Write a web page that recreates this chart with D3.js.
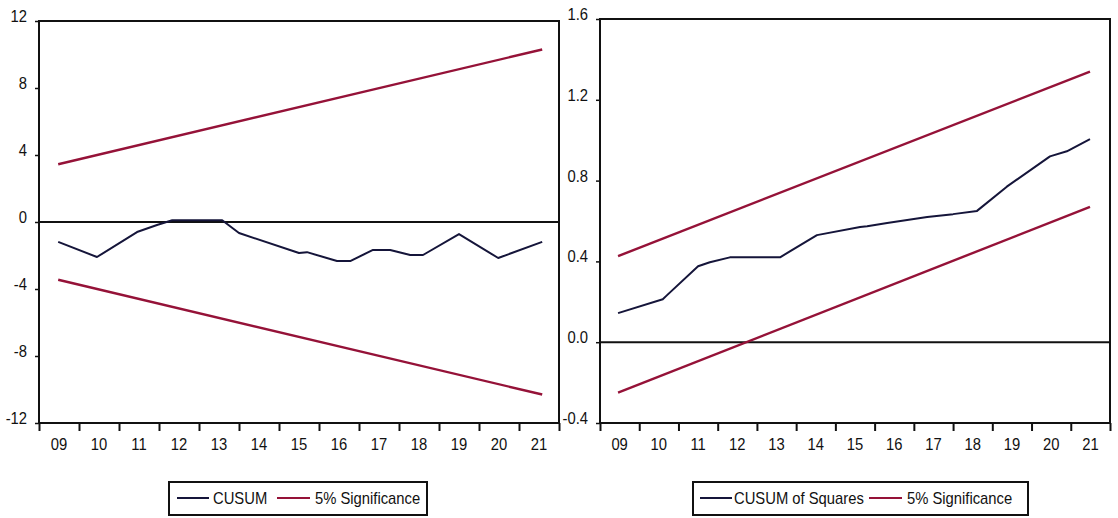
<!DOCTYPE html>
<html>
<head>
<meta charset="utf-8">
<script src="https://cdn.jsdelivr.net/npm/d3@7"></script>
<style>
  html, body { margin: 0; padding: 0; background: #fff; }
  svg { display: block; }
  text { font-family: "Liberation Sans", Arial, sans-serif; fill: #111; }
</style>
</head>
<body>
<svg id="chart" width="1118" height="518"></svg>
<script>
// ---------- data ----------
const yearLabels = ["09","10","11","12","13","14","15","16","17","18","19","20","21"];
const firstYear = 2009;

// CUSUM (left panel) : time in years, value
const cusumTime  = [2009.48, 2010.45, 2011.45, 2011.95, 2012.33, 2013.58, 2014.0, 2015.5, 2015.7, 2016.45, 2016.78, 2017.35, 2017.78, 2018.28, 2018.6, 2019.5, 2020.48, 2021.58];
const cusumValue = [-1.19, -2.09, -0.6, -0.18, 0.1, 0.1, -0.66, -1.85, -1.8, -2.33, -2.33, -1.67, -1.67, -1.97, -1.97, -0.72, -2.15, -1.19];
const cusumBandTime  = [2009.48, 2021.58];
const cusumUpper = [3.45, 10.3];
const cusumLower = [-3.45, -10.3];
const cusumTicks = [-12, -8, -4, 0, 4, 8, 12];

// CUSUM of Squares (right panel)
const sqTime  = [2009.46, 2010.6, 2010.71, 2011.5, 2011.8, 2012.31, 2013.59, 2013.84, 2014.53, 2015.63, 2015.81, 2016.32, 2017.34, 2018.0, 2018.61, 2019.37, 2020.47, 2020.9, 2021.49];
const sqValue = [0.144, 0.213, 0.233, 0.376, 0.396, 0.42, 0.42, 0.45, 0.53, 0.57, 0.574, 0.59, 0.62, 0.634, 0.65, 0.77, 0.92, 0.945, 1.005];
const sqBandTime = [2009.46, 2021.49];
const sqUpper = [0.426, 1.34];
const sqLower = [-0.25, 0.67];
const sqTicks = [-0.4, 0.0, 0.4, 0.8, 1.2, 1.6];

const seriesColor = "#15153a";
const bandColor = "#951238";

const svg = d3.select("#chart");

function addText(g, x, y, str, anchor) {
  return g.append("text")
    .attr("transform", `translate(${x},${y}) scale(0.87,1)`)
    .attr("text-anchor", anchor || "start")
    .style("font-size", "17px")
    .text(str);
}

const hyphen = f => v => f(v).replace("\u2212", "-");

function panel(cfg) {
  const g = svg.append("g");
  const x = d3.scaleLinear().domain([firstYear, firstYear + yearLabels.length]).range([cfg.left, cfg.right]);
  const y = d3.scaleLinear().domain(cfg.yDomain).range([cfg.bottom, cfg.top]);

  // x ticks at year boundaries
  const xTickVals = d3.range(firstYear, firstYear + yearLabels.length + 1);
  g.append("g")
    .attr("transform", `translate(0,${cfg.bottom})`)
    .call(d3.axisBottom(x).tickValues(xTickVals).tickSize(8).tickFormat(""))
    .call(a => a.select(".domain").remove())
    .call(a => a.selectAll("line").attr("stroke", "#111").attr("stroke-width", 2));

  // y ticks
  g.append("g")
    .attr("transform", `translate(${cfg.left},0)`)
    .call(d3.axisLeft(y).tickValues(cfg.ticks).tickSize(4).tickFormat(""))
    .call(a => a.select(".domain").remove())
    .call(a => a.selectAll("line").attr("stroke", "#111").attr("stroke-width", 1.5));

  // y labels (baseline at tick, as in EViews)
  cfg.ticks.forEach(v => addText(g, cfg.left - cfg.labelGap, y(v) + 1, cfg.fmt(v), "end"));

  // x labels centred in each year band
  yearLabels.forEach((lab, i) => addText(g, x(firstYear + i + 0.5), cfg.bottom + 27, lab, "middle"));

  // zero line
  g.append("line")
    .attr("x1", cfg.left).attr("x2", cfg.right)
    .attr("y1", y(0)).attr("y2", y(0))
    .attr("stroke", "#111").attr("stroke-width", 2);

  const line = d3.line().x(d => x(d[0])).y(d => y(d[1]));

  // bands
  [cfg.upper, cfg.lower].forEach(arr => {
    g.append("path")
      .datum(cfg.bandTime.map((t, i) => [t, arr[i]]))
      .attr("d", line)
      .attr("fill", "none")
      .attr("stroke", bandColor)
      .attr("stroke-width", 2.4);
  });

  // series
  g.append("path")
    .datum(cfg.time.map((t, i) => [t, cfg.values[i]]))
    .attr("d", line)
    .attr("fill", "none")
    .attr("stroke", seriesColor)
    .attr("stroke-width", 2)
    .attr("stroke-linejoin", "round");

  // frame
  g.append("rect")
    .attr("x", cfg.left).attr("y", cfg.top)
    .attr("width", cfg.right - cfg.left).attr("height", cfg.bottom - cfg.top)
    .attr("fill", "none").attr("stroke", "#111").attr("stroke-width", 2);

  // legend
  const L = cfg.legend;
  g.append("rect")
    .attr("x", L.x).attr("y", 482).attr("width", L.w).attr("height", 33)
    .attr("fill", "#fff").attr("stroke", "#111").attr("stroke-width", 2);
  g.append("line").attr("x1", L.s1).attr("x2", L.s1 + 32).attr("y1", 498).attr("y2", 498)
    .attr("stroke", seriesColor).attr("stroke-width", 2);
  addText(g, L.t1, 504, L.label1);
  g.append("line").attr("x1", L.s2).attr("x2", L.s2 + 33).attr("y1", 498).attr("y2", 498)
    .attr("stroke", bandColor).attr("stroke-width", 2);
  addText(g, L.t2, 504, "5% Significance");
}

panel({
  left: 39, right: 559, top: 21, bottom: 423,
  yDomain: [-12, 12], ticks: cusumTicks, fmt: hyphen(d3.format("d")), labelGap: 12,
  time: cusumTime, values: cusumValue,
  bandTime: cusumBandTime, upper: cusumUpper, lower: cusumLower,
  legend: { x: 169, w: 258, s1: 177, t1: 213, s2: 277, t2: 315, label1: "CUSUM" }
});

panel({
  left: 600, right: 1110, top: 19, bottom: 423,
  yDomain: [-0.4, 1.6], ticks: sqTicks, fmt: hyphen(d3.format(".1f")), labelGap: 12,
  time: sqTime, values: sqValue,
  bandTime: sqBandTime, upper: sqUpper, lower: sqLower,
  legend: { x: 693, w: 335, s1: 700, t1: 734, s2: 869, t2: 907, label1: "CUSUM of Squares" }
});
</script>
</body>
</html>
